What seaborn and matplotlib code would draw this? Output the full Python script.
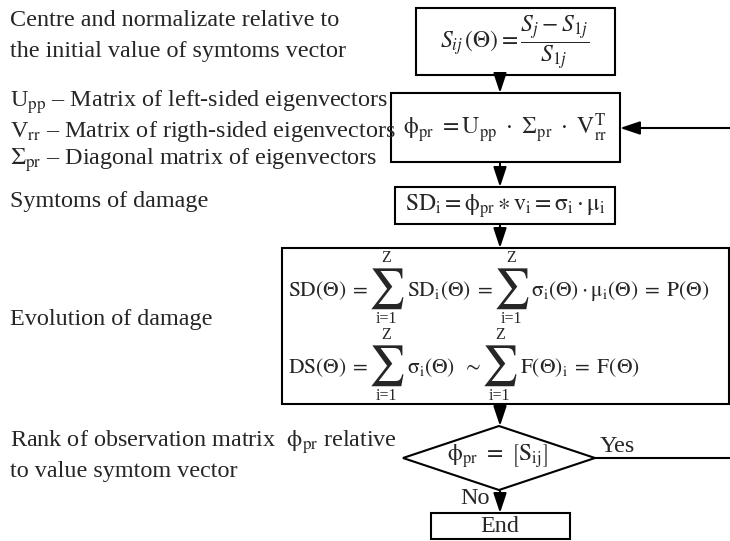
import matplotlib
matplotlib.use("Agg")
import matplotlib.pyplot as plt
import seaborn as sns
from matplotlib.patches import Rectangle, Polygon

sns.set_theme(style="white")
plt.rcParams["font.family"] = ["Liberation Serif", "DejaVu Serif"]
plt.rcParams["mathtext.fontset"] = "stix"

# left-hand descriptions, one entry per printed line
note_lines = [
    "Centre and normalizate relative to",
    "the initial value of symtoms vector",
    r"U$_{\mathrm{pp}}$ – Matrix of left-sided eigenvectors",
    r"V$_{\mathrm{rr}}$ – Matrix of rigth-sided eigenvectors",
    r"$\Sigma_{\mathrm{pr}}$ – Diagonal matrix of eigenvectors",
    "Symtoms of damage",
    "Evolution of damage",
    r"Rank of observation matrix  $\mathrm{\phi_{pr}}$ relative",
    "to value symtom vector",
]

# equations in the single-line boxes
step_eqs = [
    r"$S_{ij}\,(\Theta) = \dfrac{S_j - S_{1j}}{S_{1j}}$",
    r"$\mathrm{\phi_{pr}}\ = \mathrm{U_{pp}}\ \cdot\ \mathrm{\Sigma_{pr}}\ \cdot\ \mathrm{V_{rr}^{T}}$",
    r"$\mathrm{SD_i} = \mathrm{\phi_{pr}} \ast \mathrm{v_i} = \mathrm{\sigma_i} \cdot \mathrm{\mu_i}$",
]
# rows of the "evolution" box; a tuple is a summation (upper, lower limit)
sd_row = [r"$\mathrm{SD(\Theta)}\;=\;$", ("Z", "i=1"),
          r"$\mathrm{SD_i(\Theta)}\;=\;$", ("Z", "i=1"),
          r"$\mathrm{\sigma_i(\Theta)} \cdot \mathrm{\mu_i(\Theta)}\;=\;\mathrm{P(\Theta)}$"]
ds_row = [r"$\mathrm{DS(\Theta)}\;=\;$", ("Z", "i=1"),
          r"$\mathrm{\sigma_i(\Theta)}\;\;\sim\;\;$", ("Z", "i=1"),
          r"$\mathrm{F(\Theta)_i}\;=\;\mathrm{F(\Theta)}$"]
decision_eq = r"$\mathrm{\phi_{pr}}\ =\ \left[\mathrm{S_{ij}}\right]$"
branch_labels = ["Yes", "No"]
end_label = "End"

# layout (pixel coordinates, y downwards)
note_y = [20, 52, 102, 131, 160, 202, 319, 442, 471]
boxes = [(416, 8, 199, 67), (391, 93, 229, 69), (395, 187, 220, 37), (282, 248, 447, 156)]
eq_pos = [(515, 42), (505, 128), (505, 206)]
row_start = [(288, 296), (288, 373)]
end_box = (431, 513, 139, 26)
diamond = [(403, 458), (499, 426), (595, 458), (499, 490)]
cx = 500
arrows = [((cx, 75), (cx, 93)), ((cx, 162), (cx, 187)), ((cx, 224), (cx, 248)),
          ((cx, 404), (cx, 426)), ((cx, 490), (cx, 513)), ((730, 128), (620, 128))]

fig, ax = plt.subplots(figsize=(7.3, 5.41), dpi=100)
fig.subplots_adjust(0, 0, 1, 1)
ax.set_xlim(0, 730)
ax.set_ylim(541, 0)
ax.axis("off")
renderer = fig.canvas.get_renderer()


def draw_row(x, base, parts, fs=15.5):
    # lay the pieces out left to right on one baseline
    for part in parts:
        if isinstance(part, tuple):
            s = ax.text(x, base - 7, r"$\sum$", fontsize=29, ha="left", va="center")
            w = s.get_window_extent(renderer).width
            ax.text(x + w / 2, base - 38, part[0], fontsize=11.5, ha="center", va="center")
            ax.text(x + w / 2, base + 23, part[1], fontsize=11.5, ha="center", va="center")
            x += w + 2
        else:
            t = ax.text(x, base, part, fontsize=fs, ha="left", va="baseline")
            x += t.get_window_extent(renderer).width


for text, y in zip(note_lines, note_y):
    ax.text(10, y, text, fontsize=17.4, va="center", ha="left")

for x, y, w, h in boxes + [end_box]:
    ax.add_patch(Rectangle((x, y), w, h, fill=False, lw=1.5, ec="black"))

for eq, (x, y) in zip(step_eqs, eq_pos):
    ax.text(x, y, eq, fontsize=17, ha="center", va="center")

for (x, base), row in zip(row_start, [sd_row, ds_row]):
    draw_row(x, base, row)

ax.add_patch(Polygon(diamond, closed=True, fill=False, lw=1.5, ec="black"))
ax.text(497, 456, decision_eq, fontsize=17, ha="center", va="center")
ax.plot([595, 730], [458, 458], color="black", lw=1.5)
ax.text(600, 446, branch_labels[0], fontsize=17.4, ha="left", va="center")
ax.text(475, 498, branch_labels[1], fontsize=17.4, ha="center", va="center")
ax.text(500, 526, end_label, fontsize=17.4, ha="center", va="center")

for start, end in arrows:
    ax.annotate("", xy=end, xytext=start,
                arrowprops=dict(arrowstyle="-|>,head_length=0.6,head_width=0.2",
                                color="black", lw=1.5, shrinkA=0, shrinkB=0,
                                mutation_scale=20))

fig.savefig("out.png", dpi=100)
